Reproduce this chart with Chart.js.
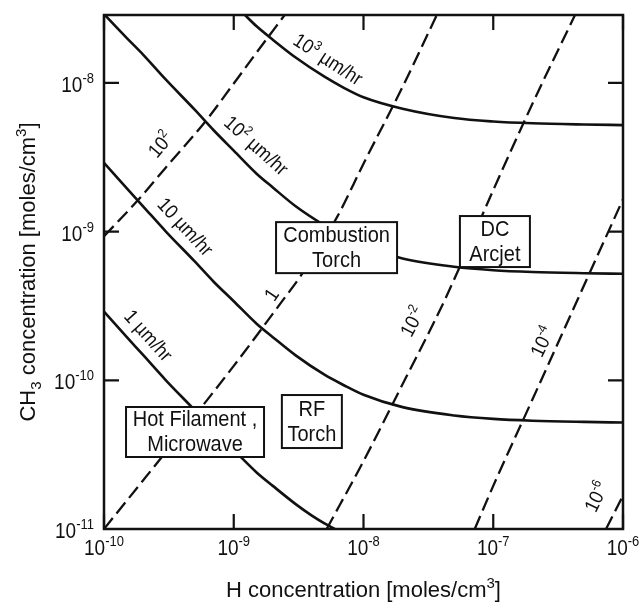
<!DOCTYPE html>
<html>
<head>
<meta charset="utf-8">
<script src="https://cdn.jsdelivr.net/npm/chart.js@4.4.1/dist/chart.umd.min.js"></script>
<style>
  html, body { margin: 0; padding: 0; background: #fff; }
  #wrap { width: 642px; height: 603px; }
</style>
</head>
<body>
<div id="wrap"><canvas id="chart" width="642" height="603"></canvas></div>
<script>
// decades shown on the axes
const xTicks = [1e-10, 1e-9, 1e-8, 1e-7, 1e-6];
const yTicks = [1e-11, 1e-10, 1e-9, 1e-8];
const xMin = 1e-10, xMax = 1e-6;
const yMin = 1e-11, yMax = 2.86e-8;

// growth rate curves (solid)
const rate1X = [1e-10, 1.5e-10, 2e-10, 3e-10, 5e-10, 7e-10, 1e-9, 1.5e-9, 2e-9, 3e-9, 4e-9, 5e-9, 6e-9];
const rate1Y = [2.9e-10, 1.95e-10, 1.48e-10, 1.0e-10, 6.3e-11, 4.6e-11, 3.4e-11, 2.4e-11, 1.95e-11, 1.47e-11, 1.23e-11, 1.09e-11, 1.0e-11];

const rate10X = [1e-10, 1.5e-10, 2e-10, 3e-10, 5e-10, 7e-10, 1e-9, 1.5e-9, 2e-9, 3e-9, 5e-9, 7e-9, 1e-8, 2e-8, 5e-8, 1e-7, 2e-7, 5e-7, 1e-6];
const rate10Y = [2.9e-9, 1.95e-9, 1.48e-9, 1.0e-9, 6.3e-10, 4.6e-10, 3.4e-10, 2.4e-10, 1.95e-10, 1.47e-10, 1.09e-10, 9.3e-11, 8.0e-11, 6.6e-11, 5.8e-11, 5.5e-11, 5.35e-11, 5.25e-11, 5.2e-11];

const rate100X = [1e-10, 1.5e-10, 2e-10, 3e-10, 5e-10, 7e-10, 1e-9, 1.5e-9, 2e-9, 3e-9, 5e-9, 7e-9, 1e-8, 2e-8, 5e-8, 1e-7, 2e-7, 5e-7, 1e-6];
const rate100Y = [2.9e-8, 2.0e-8, 1.55e-8, 1.05e-8, 6.6e-9, 4.8e-9, 3.5e-9, 2.45e-9, 1.98e-9, 1.48e-9, 1.1e-9, 9.3e-10, 8.0e-10, 6.6e-10, 5.8e-10, 5.5e-10, 5.35e-10, 5.25e-10, 5.2e-10];

const rate1000X = [1.2e-9, 1.5e-9, 2e-9, 3e-9, 5e-9, 7e-9, 1e-8, 2e-8, 5e-8, 1e-7, 2e-7, 5e-7, 1e-6];
const rate1000Y = [2.9e-8, 2.4e-8, 1.95e-8, 1.48e-8, 1.1e-8, 9.3e-9, 8.0e-9, 6.7e-9, 5.8e-9, 5.5e-9, 5.35e-9, 5.25e-9, 5.2e-9];

// ratio lines (dashed)
const ratio100X = [1e-10, 1.83e-10, 3e-10, 6e-10, 1e-9, 1.5e-9, 2.5e-9];
const ratio100Y = [9.3e-10, 1.63e-9, 2.7e-9, 5.46e-9, 9.9e-9, 1.6e-8, 2.9e-8];

const ratio1X = [1e-10, 3e-10, 1e-9, 2.4e-9, 3.24e-9, 6.25e-9, 1e-8, 2e-8, 3.7e-8];
const ratio1Y = [1.0e-11, 3.3e-11, 1.25e-10, 3.47e-10, 4.95e-10, 1.25e-9, 2.86e-9, 9.4e-9, 2.9e-8];

const ratio1e2X = [5.2e-9, 1e-8, 2e-8, 4.25e-8, 1e-7, 2e-7, 4.3e-7];
const ratio1e2Y = [1.0e-11, 2.86e-11, 9.4e-11, 3.5e-10, 1.9e-9, 7.2e-9, 2.9e-8];

const ratio1e4X = [7.2e-8, 1e-7, 2e-7, 4.67e-7, 1e-6];
const ratio1e4Y = [1.0e-11, 1.95e-11, 7.4e-11, 3.8e-10, 1.65e-9];

const ratio1e6X = [7.4e-7, 1e-6];
const ratio1e6Y = [1.0e-11, 1.68e-11];

// text placed on the curves: [text, 'sup'] pieces, anchor in data units, angle in degrees
const curveLabels = [
  { segs: [['10'], ['3', 'sup'], [' µm/hr']], x: 5.3e-9, y: 1.43e-8, angle: 33 },
  { segs: [['10'], ['2', 'sup'], [' µm/hr']], x: 1.48e-9, y: 3.77e-9, angle: 42 },
  { segs: [['10 µm/hr']], x: 4.2e-10, y: 1.07e-9, angle: 47 },
  { segs: [['1 µm/hr']], x: 2.18e-10, y: 1.99e-10, angle: 48 },
  { segs: [['10'], ['2', 'sup']], x: 2.75e-10, y: 3.82e-9, angle: -50 },
  { segs: [['1']], x: 1.97e-9, y: 3.75e-10, angle: -56 },
  { segs: [['10'], ['-2', 'sup']], x: 2.41e-8, y: 2.47e-10, angle: -62 },
  { segs: [['10'], ['-4', 'sup']], x: 2.42e-7, y: 1.81e-10, angle: -64 },
  { segs: [['10'], ['-6', 'sup']], x: 6.3e-7, y: 1.64e-11, angle: -64 }
];

const boxes = [
  { lines: ['Combustion', 'Torch'], x: 6.2e-9, y: 7.8e-10, w: 121, h: 51 },
  { lines: ['DC', 'Arcjet'], x: 1.03e-7, y: 8.57e-10, w: 70, h: 51 },
  { lines: ['Hot Filament ,', 'Microwave'], x: 5.03e-10, y: 4.49e-11, w: 138, h: 50 },
  { lines: ['RF', 'Torch'], x: 4.0e-9, y: 5.28e-11, w: 60, h: 53 }
];

const FONT = '"Liberation Sans", Arial, Helvetica, sans-serif';
const INK = '#111';

function toPoints(xs, ys) {
  return xs.map((x, i) => ({ x: x, y: ys[i] }));
}

function solid(xs, ys) {
  return { data: toPoints(xs, ys), showLine: true, borderColor: INK, borderWidth: 2.6,
    pointRadius: 0, tension: 0.4, cubicInterpolationMode: 'monotone' };
}

function dashed(xs, ys) {
  return { data: toPoints(xs, ys), showLine: true, borderColor: INK, borderWidth: 2.3,
    borderDash: [14, 6], pointRadius: 0, tension: 0.4, cubicInterpolationMode: 'monotone' };
}

// draws text pieces with superscripts / subscripts; y is the baseline,
// stretch makes the glyphs a little taller like the scanned lettering
function drawRich(ctx, segs, x, y, size, align, stretch) {
  const small = Math.round(size * 0.68);
  let total = 0;
  segs.forEach(s => {
    ctx.font = (s[1] ? small : size) + 'px ' + FONT;
    total += ctx.measureText(s[0]).width;
  });
  let cx = 0;
  if (align === 'center') cx = -total / 2;
  if (align === 'right') cx = -total;
  ctx.save();
  ctx.translate(x, y);
  ctx.scale(1, stretch || 1);
  ctx.textAlign = 'left';
  ctx.textBaseline = 'alphabetic';
  segs.forEach(s => {
    ctx.font = (s[1] ? small : size) + 'px ' + FONT;
    let dy = 0;
    if (s[1] === 'sup') dy = -size * 0.42;
    if (s[1] === 'sub') dy = size * 0.25;
    ctx.fillText(s[0], cx, dy);
    cx += ctx.measureText(s[0]).width;
  });
  ctx.restore();
}

const decor = {
  id: 'decor',
  afterDatasetsDraw(chart) {
    const ctx = chart.ctx;
    const xs = chart.scales.x, ys = chart.scales.y;
    const a = chart.chartArea;
    ctx.save();
    ctx.fillStyle = INK;
    ctx.strokeStyle = INK;

    // labels along curves
    curveLabels.forEach(l => {
      ctx.save();
      ctx.translate(xs.getPixelForValue(l.x), ys.getPixelForValue(l.y));
      ctx.rotate(l.angle * Math.PI / 180);
      drawRich(ctx, l.segs, 0, 6, 18, 'center', 1.1);
      ctx.restore();
    });

    // boxed labels
    boxes.forEach(b => {
      const cx = xs.getPixelForValue(b.x), cy = ys.getPixelForValue(b.y);
      ctx.fillStyle = '#fff';
      ctx.fillRect(cx - b.w / 2, cy - b.h / 2, b.w, b.h);
      ctx.lineWidth = 2;
      ctx.strokeRect(cx - b.w / 2, cy - b.h / 2, b.w, b.h);
      ctx.fillStyle = INK;
      b.lines.forEach((t, i) => drawRich(ctx, [[t]], cx, cy - 6 + i * 25, 20, 'center', 1.1));
    });

    // frame and inward ticks
    ctx.lineWidth = 2.5;
    ctx.strokeRect(a.left, a.top, a.right - a.left, a.bottom - a.top);
    ctx.lineWidth = 2.2;
    const tl = 15;
    xTicks.forEach(v => {
      const px = xs.getPixelForValue(v);
      ctx.beginPath();
      ctx.moveTo(px, a.bottom); ctx.lineTo(px, a.bottom - tl);
      ctx.moveTo(px, a.top); ctx.lineTo(px, a.top + tl);
      ctx.stroke();
      const e = String(Math.round(Math.log10(v)));
      drawRich(ctx, [['10'], [e, 'sup']], px, a.bottom + 26, 19, 'center', 1.12);
    });
    yTicks.forEach(v => {
      const py = ys.getPixelForValue(v);
      ctx.beginPath();
      ctx.moveTo(a.left, py); ctx.lineTo(a.left + tl, py);
      ctx.moveTo(a.right, py); ctx.lineTo(a.right - tl, py);
      ctx.stroke();
      const e = String(Math.round(Math.log10(v)));
      drawRich(ctx, [['10'], [e, 'sup']], a.left - 10, py + 9, 19, 'right', 1.12);
    });

    // axis titles
    drawRich(ctx, [['H concentration [moles/cm'], ['3', 'sup'], [']']],
      (a.left + a.right) / 2, a.bottom + 68, 22, 'center');
    ctx.save();
    ctx.translate(35, (a.top + a.bottom) / 2);
    ctx.rotate(-Math.PI / 2);
    drawRich(ctx, [['CH'], ['3', 'sub'], [' concentration [moles/cm'], ['3', 'sup'], [']']], 0, 0, 22, 'center');
    ctx.restore();

    ctx.restore();
  }
};

const chart = new Chart(document.getElementById('chart'), {
  type: 'scatter',
  data: {
    datasets: [
      solid(rate1X, rate1Y),
      solid(rate10X, rate10Y),
      solid(rate100X, rate100Y),
      solid(rate1000X, rate1000Y),
      dashed(ratio100X, ratio100Y),
      dashed(ratio1X, ratio1Y),
      dashed(ratio1e2X, ratio1e2Y),
      dashed(ratio1e4X, ratio1e4Y),
      dashed(ratio1e6X, ratio1e6Y)
    ]
  },
  options: {
    responsive: false,
    animation: false,
    devicePixelRatio: 1,
    layout: { padding: { left: 104, right: 19, top: 15, bottom: 74 } },
    scales: {
      x: { type: 'logarithmic', min: xMin, max: xMax, display: false },
      y: { type: 'logarithmic', min: yMin, max: yMax, display: false }
    },
    plugins: {
      legend: { display: false },
      tooltip: { enabled: false }
    }
  },
  plugins: [decor]
});
</script>
</body>
</html>
